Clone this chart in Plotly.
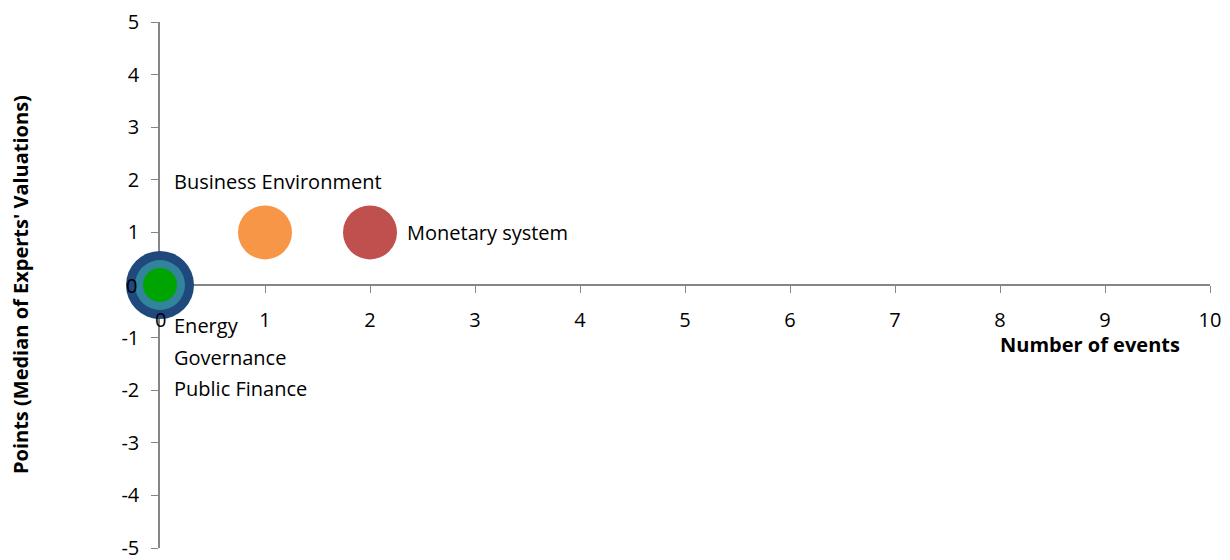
import plotly.graph_objects as go

# Data
categories = ["Energy", "Governance", "Public Finance", "Business Environment", "Monetary system"]
num_events = [0, 0, 0, 1, 2]
points = [0, 0, 0, 1, 1]
bubble_size = [68, 50, 34, 54, 54]
colors = ["#1F497D", "#31849B", "#00A400", "#F79646", "#C0504D"]

x_ticks = list(range(0, 11))
y_ticks = list(range(-5, 6))

FONT = "Open Sans"
FS = 20
fig = go.Figure()

for cat, xv, yv, s, c in zip(categories, num_events, points, bubble_size, colors):
    fig.add_trace(go.Scatter(
        x=[xv], y=[yv], mode="markers", name=cat,
        marker=dict(size=s, color=c, line=dict(width=0), opacity=1),
        cliponaxis=False, showlegend=False, hoverinfo="name",
    ))

# Data labels (left-aligned)
label_pos = {
    "Business Environment": (0.11, 1.97),
    "Monetary system": (2.33, 1.0),
    "Energy": (0.11, -0.77),
    "Governance": (0.11, -1.37),
    "Public Finance": (0.11, -1.97),
}
for cat in categories:
    lx, ly = label_pos[cat]
    fig.add_annotation(x=lx, y=ly, text=cat, showarrow=False, xanchor="left",
                       yanchor="middle", font=dict(family=FONT, size=FS, color="#000000"))

# "0" tick labels drawn above bubble
fig.add_annotation(x=0, y=0, xref="x", yref="y", text="0", showarrow=False,
                   xanchor="right", xshift=-21, font=dict(family=FONT, size=FS, color="#000"))
fig.add_annotation(x=0, y=0, xref="x", yref="y", text="0", showarrow=False,
                   yanchor="top", yshift=-19, font=dict(family=FONT, size=FS, color="#000"))

fig.update_layout(
    width=1230, height=560,
    margin=dict(l=160, r=20, t=22, b=12),
    paper_bgcolor="white", plot_bgcolor="white",
    font=dict(family=FONT, size=FS, color="#000"),
    xaxis=dict(range=[0, 10], tickvals=x_ticks,
               ticktext=["" if v == 0 else str(v) for v in x_ticks],
               showgrid=False, zeroline=False, showline=True, linecolor="#868686",
               linewidth=1.5, ticks="outside", ticklen=7, tickcolor="#868686",
               anchor="free", position=0.5, layer="below traces",
               ticklabelstandoff=10, automargin=False, ticklabeloverflow="allow"),
    yaxis=dict(range=[-5, 5], tickvals=y_ticks,
               ticktext=["" if v == 0 else str(v) for v in y_ticks],
               showgrid=False, zeroline=False, showline=True, linecolor="#868686",
               linewidth=1.5, ticks="outside", ticklen=7, tickcolor="#868686",
               layer="below traces", ticklabelstandoff=8, automargin=False,
               ticklabeloverflow="allow"),
)

fig.add_annotation(x=0.886, y=0.386, xref="paper", yref="paper", text="<b>Number of events</b>",
                   showarrow=False, xanchor="center", yanchor="middle",
                   font=dict(family=FONT, size=FS))
fig.add_annotation(x=0, y=0.5, xref="paper", yref="paper", text="<b>Points (Median of Experts' Valuations)</b>",
                   showarrow=False, textangle=-90, xanchor="center", yanchor="middle",
                   xshift=-140, font=dict(family=FONT, size=FS))

fig.write_html("out.html")
